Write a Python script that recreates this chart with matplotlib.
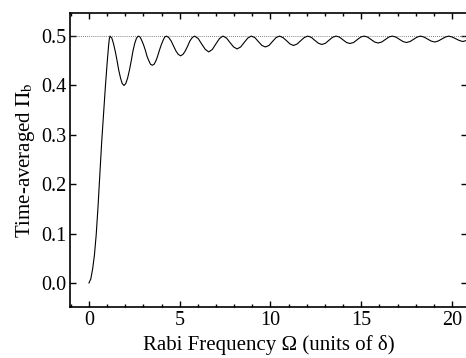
import matplotlib
matplotlib.use("Agg")
import matplotlib.pyplot as plt
from matplotlib.ticker import MultipleLocator, FormatStrFormatter

plt.rcParams['font.family'] = ['Liberation Serif', 'DejaVu Serif']
plt.rcParams['mathtext.fontset'] = 'stix'

# curve: initial rise, then damped oscillation below 0.5
rabi_freq = [
    0.00, 0.10, 0.20, 0.30, 0.40, 0.50, 0.60, 0.70, 0.80, 0.90, 1.00, 1.08, 1.12, 1.16,
    1.26, 1.35, 1.45, 1.55, 1.64, 1.74, 1.83, 1.93,
    2.03, 2.13, 2.23, 2.33, 2.42, 2.52, 2.62, 2.72,
    2.82, 2.91, 3.01, 3.11, 3.20, 3.30, 3.39, 3.49,
    3.59, 3.69, 3.78, 3.88, 3.98, 4.08, 4.17, 4.27,
    4.40, 4.53, 4.66, 4.79, 4.92, 5.05,
    5.18, 5.31, 5.44, 5.56, 5.69, 5.82,
    6.02, 6.21, 6.41, 6.60, 6.80, 6.99, 7.19, 7.38,
    7.58, 7.77, 7.97, 8.16, 8.36, 8.55, 8.75, 8.94,
    9.14, 9.33, 9.53, 9.72, 9.92, 10.11, 10.31, 10.50,
    10.69, 10.89, 11.08, 11.27, 11.47, 11.66, 11.86, 12.05,
    12.25, 12.44, 12.64, 12.83, 13.03, 13.22, 13.42, 13.61,
    13.80, 14.00, 14.19, 14.38, 14.58, 14.77, 14.97, 15.16,
    15.35, 15.55, 15.74, 15.93, 16.13, 16.32, 16.52, 16.71,
    16.91, 17.10, 17.30, 17.49, 17.69, 17.88, 18.08, 18.27,
    18.46, 18.66, 18.85, 19.04, 19.24, 19.43, 19.63, 19.82,
    20.02, 20.21, 20.41, 20.60, 20.80, 21.00,
]
pi_b = [
    0.000, 0.008, 0.028, 0.056, 0.098, 0.155, 0.222, 0.285, 0.340, 0.395, 0.445, 0.480, 0.494, 0.500,
    0.496, 0.485, 0.469, 0.450, 0.431, 0.415, 0.404, 0.400,
    0.404, 0.415, 0.431, 0.450, 0.469, 0.485, 0.496, 0.500,
    0.498, 0.491, 0.482, 0.471, 0.459, 0.450, 0.443, 0.441,
    0.443, 0.450, 0.459, 0.471, 0.482, 0.491, 0.498, 0.500,
    0.497, 0.490, 0.480, 0.470, 0.463, 0.460,
    0.463, 0.470, 0.480, 0.490, 0.497, 0.500,
    0.495, 0.484, 0.473, 0.468, 0.473, 0.484, 0.495, 0.500,
    0.496, 0.487, 0.478, 0.474, 0.478, 0.487, 0.496, 0.500,
    0.497, 0.489, 0.481, 0.478, 0.481, 0.489, 0.497, 0.500,
    0.497, 0.4905, 0.484, 0.481, 0.484, 0.4905, 0.497, 0.500,
    0.4975, 0.4915, 0.4855, 0.483, 0.4855, 0.4915, 0.4975, 0.500,
    0.498, 0.4925, 0.487, 0.485, 0.487, 0.4925, 0.498, 0.500,
    0.498, 0.493, 0.488, 0.486, 0.488, 0.493, 0.498, 0.500,
    0.498, 0.4935, 0.489, 0.487, 0.489, 0.4935, 0.498, 0.500,
    0.498, 0.494, 0.490, 0.488, 0.490, 0.494, 0.498, 0.500,
    0.498, 0.4945, 0.491, 0.489, 0.491, 0.4945,
]
limit_value = 0.5

fig = plt.figure(figsize=(4.66, 3.58), dpi=100)
ax = fig.add_axes([0.150, 0.142, 0.853, 0.822])

ax.axhline(limit_value, color='0.35', lw=0.6, ls=(0, (1, 1.5)))
ax.plot(rabi_freq, pi_b, color='black', lw=0.8)

ax.set_xlim(-1.05, 20.85)
ax.set_ylim(-0.049, 0.547)
ax.xaxis.set_major_locator(MultipleLocator(5))
ax.xaxis.set_minor_locator(MultipleLocator(1))
ax.yaxis.set_major_locator(MultipleLocator(0.1))
ax.yaxis.set_major_formatter(FormatStrFormatter('%.1f'))

ax.tick_params(which='both', direction='in', top=True, right=True,
               labelsize=14.5, width=1.0, pad=2.5)
ax.tick_params(which='major', length=4.5)
ax.tick_params(which='minor', length=2.5)
for s in ax.spines.values():
    s.set_linewidth(1.2)

ax.set_xlabel('Rabi Frequency Ω (units of δ)', fontsize=15, labelpad=4)
ax.set_ylabel(r'Time-averaged $\Pi_\mathrm{b}$', fontsize=15, labelpad=3)

fig.savefig('out.png', dpi=100)
